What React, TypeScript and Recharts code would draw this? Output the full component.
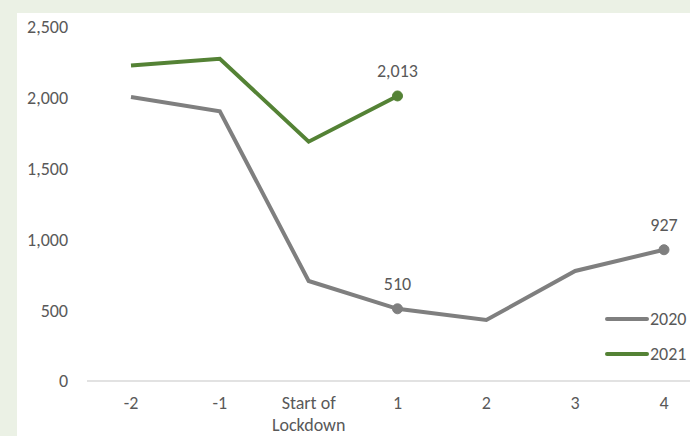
import { LineChart, Line, XAxis, YAxis, LabelList } from "recharts"

const categories = ["-2", "-1", "Start of\nLockdown", "1", "2", "3", "4"]
const series2020 = [2005, 1905, 706, 510, 431, 777, 927]
const series2021: (number | null)[] = [2228, 2276, 1690, 2013, null, null, null]
const labeledIndex2020 = [3, 6]
const labeledIndex2021 = [3]
const yTicks = [0, 500, 1000, 1500, 2000, 2500]

const data = categories.map((c, i) => ({
  cat: c,
  y2020: series2020[i],
  y2021: series2021[i],
}))

const FONT = "Carlito, 'Open Sans', sans-serif"
const FS = 18
const TEXT = "#595959"
const GRAY = "#7f7f7f"
const GREEN = "#548235"

const fmt = (v: number) => v.toLocaleString("en-US")

function CatTick({ x, y, payload }: any) {
  const lines = String(payload.value).split("\n")
  return (
    <text x={x} y={y} textAnchor="middle" fill={TEXT} fontSize={FS} fontFamily={FONT}>
      {lines.map((l, i) => (
        <tspan key={i} x={x} dy={i === 0 ? 20 : 22}>
          {l}
        </tspan>
      ))}
    </text>
  )
}

function makeDot(color: string, idx: number[]) {
  return (props: any) => {
    const { cx, cy, index } = props
    if (!idx.includes(index) || cy == null) return <g key={index} />
    return <circle key={index} cx={cx} cy={cy} r={5} fill={color} stroke={color} />
  }
}

function makeLabel(idx: number[]) {
  return (props: any) => {
    const { x, y, value, index } = props
    if (!idx.includes(index) || value == null) return null
    return (
      <text x={x} y={y - 19} textAnchor="middle" fill={TEXT} fontSize={FS} fontFamily={FONT}>
        {fmt(value)}
      </text>
    )
  }
}

function LegendBox() {
  const items = [
    { name: "2020", color: GRAY },
    { name: "2021", color: GREEN },
  ]
  return (
    <div style={{ position: "absolute", left: 605, top: 301, fontFamily: FONT, fontSize: FS, color: TEXT }}>
      {items.map((it) => (
        <div key={it.name} style={{ display: "flex", alignItems: "center", height: 35 }}>
          <div style={{ width: 44, height: 4, borderRadius: 2, background: it.color }} />
          <span style={{ marginLeft: 1 }}>{it.name}</span>
        </div>
      ))}
    </div>
  )
}

export default function App() {
  return (
    <div
      style={{
        position: "absolute",
        left: 0,
        top: 0,
        width: 690,
        height: 436,
        overflow: "hidden",
        background: "#ebf1e5",
      }}
    >
      <div style={{ position: "absolute", left: 17, top: 13, right: 0, bottom: 0, background: "#fff" }} />
      <div style={{ position: "absolute", left: 0, top: 0 }}>
        <LineChart width={720} height={436} data={data} margin={{ top: 27, right: 12, bottom: 0, left: 0 }}>
          <XAxis
            dataKey="cat"
            height={55}
            axisLine={{ stroke: "#d9d9d9", strokeWidth: 1.5 }}
            tickLine={false}
            tick={<CatTick />}
            interval={0}
            padding={{ left: 44, right: 44 }}
          />
          <YAxis
            width={87}
            domain={[0, 2500]}
            ticks={yTicks}
            axisLine={false}
            tickLine={false}
            tickSize={0}
            tickMargin={19}
            tickFormatter={fmt}
            tick={{ fill: TEXT, fontSize: FS, fontFamily: FONT }}
          />
          <Line
            dataKey="y2020"
            stroke={GRAY}
            strokeWidth={4}
            dot={makeDot(GRAY, labeledIndex2020)}
            activeDot={false}
            isAnimationActive={false}
          >
            <LabelList dataKey="y2020" content={makeLabel(labeledIndex2020)} />
          </Line>
          <Line
            dataKey="y2021"
            stroke={GREEN}
            strokeWidth={4}
            dot={makeDot(GREEN, labeledIndex2021)}
            activeDot={false}
            connectNulls={false}
            isAnimationActive={false}
          >
            <LabelList dataKey="y2021" content={makeLabel(labeledIndex2021)} />
          </Line>
        </LineChart>
      </div>
      <LegendBox />
    </div>
  )
}
